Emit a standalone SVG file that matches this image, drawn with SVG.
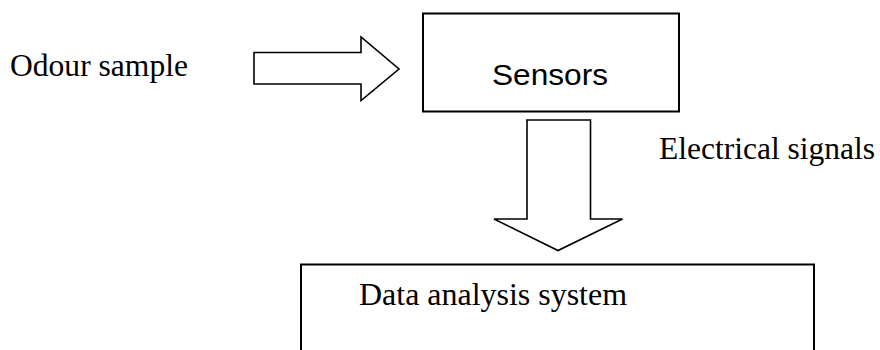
<svg xmlns="http://www.w3.org/2000/svg" width="880" height="350" viewBox="0 0 880 350">
<style>
.box{fill:#fff;stroke:#000;stroke-width:2}
.arr{fill:#fff;stroke:#000;stroke-width:1.6;stroke-linejoin:miter}
.serif{font-family:"Liberation Serif","Times New Roman",serif;font-size:32px;fill:#000}
.sans{font-family:"Liberation Sans",Arial,sans-serif;font-size:29px;fill:#000}
</style>
<rect width="880" height="350" fill="#fff"/>
<g id="connectors">
<polygon class="arr" points="254,52.5 361,52.5 361,37 399,69 361,100.5 361,84 254,84"/>
<polygon class="arr" points="527,120 590.5,120 590.5,219 622.5,219 558,250.5 494,219 527,219"/>
</g>
<g id="odour">
<text class="serif" x="10" y="76" textLength="178" lengthAdjust="spacingAndGlyphs">Odour sample</text>
</g>
<g id="sensors">
<rect class="box" x="423" y="13.5" width="256" height="98"/>
<text class="sans" x="492" y="85" textLength="116" lengthAdjust="spacingAndGlyphs">Sensors</text>
</g>
<g id="signals">
<text class="serif" x="659" y="159" textLength="216" lengthAdjust="spacingAndGlyphs">Electrical signals</text>
</g>
<g id="analysis">
<path class="box" d="M301,352 L301,264.5 L814,264.5 L814,352"/>
<text class="serif" x="359" y="305" textLength="268" lengthAdjust="spacingAndGlyphs">Data analysis system</text>
</g>
</svg>
